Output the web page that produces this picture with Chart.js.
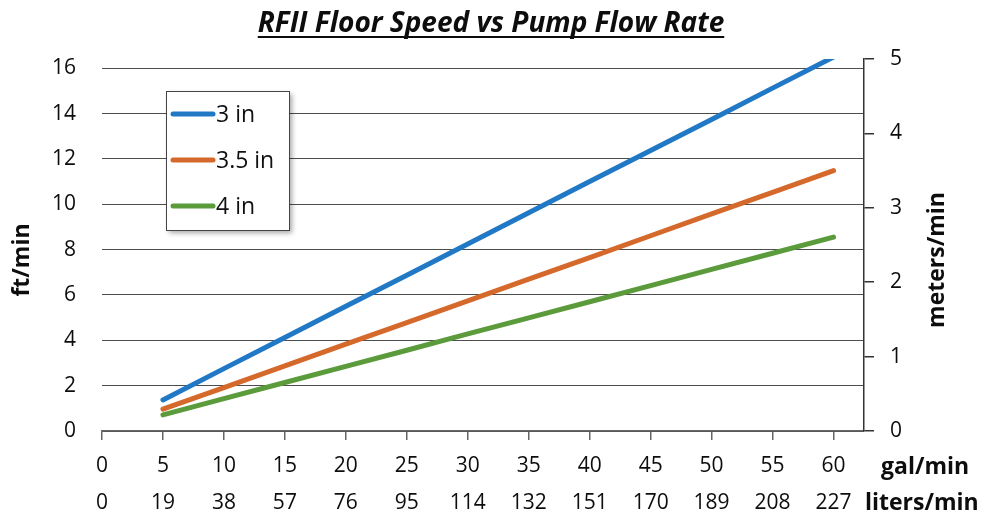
<!DOCTYPE html>
<html>
<head>
<meta charset="utf-8">
<script src="https://cdn.jsdelivr.net/npm/chart.js@4"></script>
<style>
  html, body { margin: 0; padding: 0; background: #fff; }
  #wrap { width: 991px; height: 514px; position: relative; }
</style>
</head>
<body>
<div id="wrap"><canvas id="c" width="991" height="514"></canvas></div>
<script>
// ---- data ----
const galPerMin = [5, 10, 15, 20, 25, 30, 35, 40, 45, 50, 55, 60];
const speed3in   = [1.37, 2.75, 4.12, 5.50, 6.87, 8.25, 9.62, 11.00, 12.37, 13.74, 15.12, 16.49];
const speed35in  = [0.96, 1.91, 2.87, 3.83, 4.78, 5.74, 6.70, 7.65, 8.61, 9.57, 10.52, 11.48];
const speed4in   = [0.71, 1.43, 2.14, 2.85, 3.56, 4.28, 4.99, 5.70, 6.41, 7.13, 7.84, 8.55];
const seriesNames = ['3 in', '3.5 in', '4 in'];
const galTicks   = [0, 5, 10, 15, 20, 25, 30, 35, 40, 45, 50, 55, 60];
const literTicks = [0, 19, 38, 57, 76, 95, 114, 132, 151, 170, 189, 208, 227];
const ftTicks    = [0, 2, 4, 6, 8, 10, 12, 14, 16];
const meterTicks = [0, 1, 2, 3, 4, 5];
const titleText = 'RFII Floor Speed vs Pump Flow Rate';

const FONT = "'Open Sans', 'Noto Sans', sans-serif";
const colors = ['#2179C6', '#D5692B', '#5B9B3C'];

function pts(ys) { return galPerMin.map((x, i) => ({x: x, y: ys[i]})); }

const decor = {
  id: 'decor',
  afterDraw(chart) {
    const ctx = chart.ctx;
    ctx.save();
    // title
    ctx.font = "italic bold 28px " + FONT;
    ctx.fillStyle = '#0d0d0d';
    ctx.textAlign = 'center';
    ctx.textBaseline = 'alphabetic';
    const tx = 491, ty = 32;
    ctx.fillText(titleText, tx, ty);
    const w = ctx.measureText(titleText).width;
    ctx.fillRect(tx - w / 2, ty + 4, w, 2);

    // axis titles
    ctx.font = "bold 23px " + FONT;
    ctx.textAlign = 'center';
    ctx.textBaseline = 'middle';
    ctx.save();
    ctx.translate(22, 260);
    ctx.rotate(-Math.PI / 2);
    ctx.fillText('ft/min', 0, 0);
    ctx.restore();
    ctx.save();
    ctx.translate(937, 260);
    ctx.rotate(-Math.PI / 2);
    ctx.fillText('meters/min', 0, 0);
    ctx.restore();

    // x unit labels
    ctx.font = "bold 23px " + FONT;
    ctx.textAlign = 'left';
    ctx.fillText('gal/min', 881, 467);
    ctx.fillText('liters/min', 865, 503);

    // legend
    const lx = 166, ly = 91, lw = 123, lh = 139;
    ctx.save();
    ctx.shadowColor = 'rgba(0,0,0,0.35)';
    ctx.shadowBlur = 5;
    ctx.shadowOffsetX = 3;
    ctx.shadowOffsetY = 3;
    ctx.fillStyle = '#fff';
    ctx.fillRect(lx, ly, lw, lh);
    ctx.restore();
    ctx.strokeStyle = '#444';
    ctx.lineWidth = 1;
    ctx.strokeRect(lx + 0.5, ly + 0.5, lw, lh);
    const rows = [114, 160, 206];
    chart.data.datasets.forEach((ds, i) => {
      ctx.strokeStyle = ds.borderColor;
      ctx.lineWidth = 5;
      ctx.lineCap = 'round';
      ctx.beginPath();
      ctx.moveTo(173, rows[i]);
      ctx.lineTo(213, rows[i]);
      ctx.stroke();
      ctx.fillStyle = '#111';
      ctx.font = "23px " + FONT;
      ctx.textAlign = 'left';
      ctx.textBaseline = 'middle';
      ctx.fillText(ds.label, 216, rows[i] + 1);
    });
    ctx.restore();
  }
};

new Chart(document.getElementById('c'), {
  type: 'scatter',
  data: {
    datasets: [
      { label: seriesNames[0], data: pts(speed3in), borderColor: colors[0], backgroundColor: colors[0], yAxisID: 'y' },
      { label: seriesNames[1], data: pts(speed35in), borderColor: colors[1], backgroundColor: colors[1], yAxisID: 'y' },
      { label: seriesNames[2], data: pts(speed4in), borderColor: colors[2], backgroundColor: colors[2], yAxisID: 'y' }
    ].map(d => Object.assign(d, { showLine: true, borderWidth: 5, pointRadius: 0, borderCapStyle: 'round', borderJoinStyle: 'round', tension: 0 }))
  },
  options: {
    responsive: false,
    animation: false,
    devicePixelRatio: 1,
    layout: { padding: { top: 59, left: 0, right: 0, bottom: 0 } },
    plugins: { legend: { display: false }, title: { display: false }, tooltip: { enabled: false } },
    scales: {
      x: {
        type: 'linear',
        min: 0, max: 62.5,
        afterBuildTicks(s) { s.ticks = galTicks.map(v => ({value: v})); },
        afterFit(s) { s.height = 514 - 431; },
        border: { display: true, color: '#666', width: 1.5 },
        grid: { display: true, drawOnChartArea: false, drawTicks: true, tickLength: 9, color: '#666', lineWidth: 1.5 },
        ticks: {
          autoSkip: false, maxRotation: 0, padding: 8, color: '#0d0d0d',
          font: { family: FONT, size: 21, lineHeight: 1.75 },
          callback: (v, i) => [String(galTicks[i]), String(literTicks[i])]
        }
      },
      y: {
        type: 'linear', position: 'left',
        min: 0, max: 16.404,
        afterBuildTicks(s) { s.ticks = ftTicks.map(v => ({value: v})); },
        afterFit(s) { s.width = 102; },
        border: { display: false },
        grid: { display: true, drawTicks: false, color: '#4d4d4d', lineWidth: 1 },
        ticks: { padding: 26, color: '#0d0d0d', font: { family: FONT, size: 21 } }
      },
      y2: {
        type: 'linear', position: 'right',
        min: 0, max: 5,
        afterBuildTicks(s) { s.ticks = meterTicks.map(v => ({value: v})); },
        afterFit(s) { s.width = 991 - 864; },
        border: { display: true, color: '#333', width: 1.5 },
        grid: { display: true, drawOnChartArea: false, drawTicks: true, tickLength: 10, color: '#333', lineWidth: 1.5 },
        ticks: { padding: 16, color: '#0d0d0d', font: { family: FONT, size: 21 } }
      }
    }
  },
  plugins: [decor]
});
</script>
</body>
</html>
